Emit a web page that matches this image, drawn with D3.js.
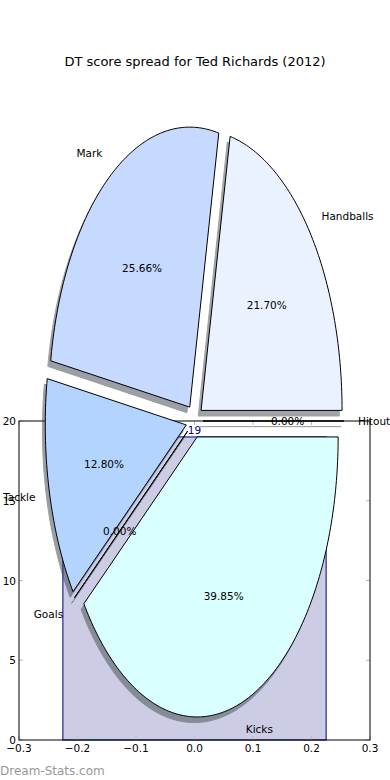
<html>
<head><meta charset="utf-8"></head>
<style>
  body { margin: 0; background: #fff; }
  text { font-family: "DejaVu Sans", sans-serif; }
</style>
<svg width="390" height="780"></svg>
<script src="https://d3js.org/d3.v7.min.js"></script>
<script>
// pie data (percent of DT score)
var labels = ["Handballs", "Mark", "Tackle", "Goals", "Kicks", "Hitout"];
var pct = [21.70, 25.66, 12.80, 0.00, 39.85, 0.00];
var colors = ["#ebf2ff", "#c6d9ff", "#b3d4ff", "#b3ffd9", "#d9ffff", "#ffffd9"];
var explode = 0.06;

// bar underneath
var barX = [0];
var barVal = [19];
var barWidth = 0.45;

var xTicks = [-0.3, -0.2, -0.1, 0.0, 0.1, 0.2, 0.3];
var yTicks = [0, 5, 10, 15, 20];

var svg = d3.select("svg");

// bar axes
var x = d3.scaleLinear().domain([-0.3, 0.3]).range([19, 370]);
var y = d3.scaleLinear().domain([0, 20]).range([740, 421]);

svg.append("text")
    .attr("x", 195).attr("y", 61)
    .attr("text-anchor", "middle").attr("dominant-baseline", "central")
    .style("font-size", "13px")
    .text("DT score spread for Ted Richards (2012)");

svg.selectAll(".bar").data(barX).enter().append("rect")
    .attr("class", "bar")
    .attr("x", d => x(d - barWidth / 2))
    .attr("y", (d, i) => y(barVal[i]))
    .attr("width", d => x(d + barWidth / 2) - x(d - barWidth / 2))
    .attr("height", (d, i) => y(0) - y(barVal[i]))
    .attr("fill", "#ccccE5").attr("stroke", "#000080").attr("stroke-width", 1);

svg.selectAll(".barlab").data(barX).enter().append("text")
    .attr("x", d => x(d))
    .attr("y", (d, i) => y(barVal[i]) - 3)
    .attr("text-anchor", "middle")
    .attr("fill", "#000080")
    .style("font-size", "10.5px")
    .text((d, i) => barVal[i]);

// ticks, inward, gray, all four sides
var tk = svg.append("g").attr("stroke", "#bbb");
xTicks.forEach(function(t) {
  tk.append("line").attr("x1", x(t)).attr("x2", x(t)).attr("y1", y(0)).attr("y2", y(0) - 4);
  tk.append("line").attr("x1", x(t)).attr("x2", x(t)).attr("y1", y(20)).attr("y2", y(20) + 4);
});
yTicks.forEach(function(t) {
  tk.append("line").attr("x1", x(-0.3)).attr("x2", x(-0.3) + 4).attr("y1", y(t)).attr("y2", y(t));
  tk.append("line").attr("x1", x(0.3)).attr("x2", x(0.3) - 4).attr("y1", y(t)).attr("y2", y(t));
});
svg.append("rect")
    .attr("x", x(-0.3)).attr("y", y(20))
    .attr("width", x(0.3) - x(-0.3)).attr("height", y(0) - y(20))
    .attr("fill", "none").attr("stroke", "#000").attr("stroke-width", 1);

var fmt = d3.format(".1f");
svg.selectAll(".xl").data(xTicks).enter().append("text")
    .attr("x", d => x(d)).attr("y", y(0) + 8)
    .attr("text-anchor", "middle").attr("dominant-baseline", "central")
    .style("font-size", "10.5px")
    .text(d => fmt(d).replace("-", "\u2212"));
svg.selectAll(".yl").data(yTicks).enter().append("text")
    .attr("x", x(-0.3) - 3).attr("y", d => y(d))
    .attr("text-anchor", "end").attr("dominant-baseline", "central")
    .style("font-size", "10.5px")
    .text(d => d);

// pie axes (separate, drawn on top)
var cx = x(0), cy = y(20);
var px = d3.scaleLinear().domain([-1, 1]).range([cx - 141, cx + 141]);
var py = d3.scaleLinear().domain([-1, 1]).range([cy + 280, cy - 280]);

var total = d3.sum(pct);
var ends = Array.from(d3.cumsum(pct)).map(v => v / total * 360);
var slices = labels.map(function(l, i) {
  var a1 = i ? ends[i - 1] : 0, a2 = ends[i];
  var mid = (a1 + a2) / 2 * Math.PI / 180;
  return {label: l, p: pct[i], color: colors[i], a1: a1, a2: a2,
          ox: explode * Math.cos(mid), oy: explode * Math.sin(mid), mid: mid};
});

function wedge(s, dx, dy) {
  var ox = s.ox + dx, oy = s.oy + dy;
  var p = "M" + px(ox) + "," + py(oy);
  var n = Math.max(1, Math.ceil(s.a2 - s.a1));
  for (var k = 0; k <= n; k++) {
    var a = (s.a1 + (s.a2 - s.a1) * k / n) * Math.PI / 180;
    p += "L" + px(ox + Math.cos(a)) + "," + py(oy + Math.sin(a));
  }
  return p + "Z";
}

function shade(c) {
  var k = d3.rgb(c);
  return d3.rgb(k.r * 0.3, k.g * 0.3, k.b * 0.3).toString();
}

svg.selectAll(".shadow").data(slices).enter().append("path")
    .attr("class", "shadow")
    .attr("d", d => wedge(d, -0.02, -0.02))
    .attr("fill", d => shade(d.color)).attr("stroke", d => shade(d.color))
    .attr("opacity", 0.5).attr("stroke-linejoin", "round");

svg.selectAll(".wedge").data(slices).enter().append("path")
    .attr("class", "wedge")
    .attr("d", d => wedge(d, 0, 0))
    .attr("fill", d => d.color).attr("stroke", "#000").attr("stroke-width", 1)
    .attr("stroke-linejoin", "round");

svg.selectAll(".lab").data(slices).enter().append("text")
    .attr("x", d => px(d.ox + 1.1 * Math.cos(d.mid)))
    .attr("y", d => py(d.oy + 1.1 * Math.sin(d.mid)))
    .attr("text-anchor", d => Math.cos(d.mid) < 0 ? "end" : "start")
    .attr("dominant-baseline", "central")
    .style("font-size", "10.5px")
    .text(d => d.label);

svg.selectAll(".pct").data(slices).enter().append("text")
    .attr("x", d => px(d.ox + 0.6 * Math.cos(d.mid)))
    .attr("y", d => py(d.oy + 0.6 * Math.sin(d.mid)))
    .attr("text-anchor", "middle").attr("dominant-baseline", "central")
    .style("font-size", "10.5px")
    .text(d => d.p.toFixed(2) + "%");

svg.append("text")
    .attr("x", 0).attr("y", 775)
    .attr("fill", "#999")
    .style("font-size", "12px")
    .text("Dream-Stats.com");
</script>
</html>
